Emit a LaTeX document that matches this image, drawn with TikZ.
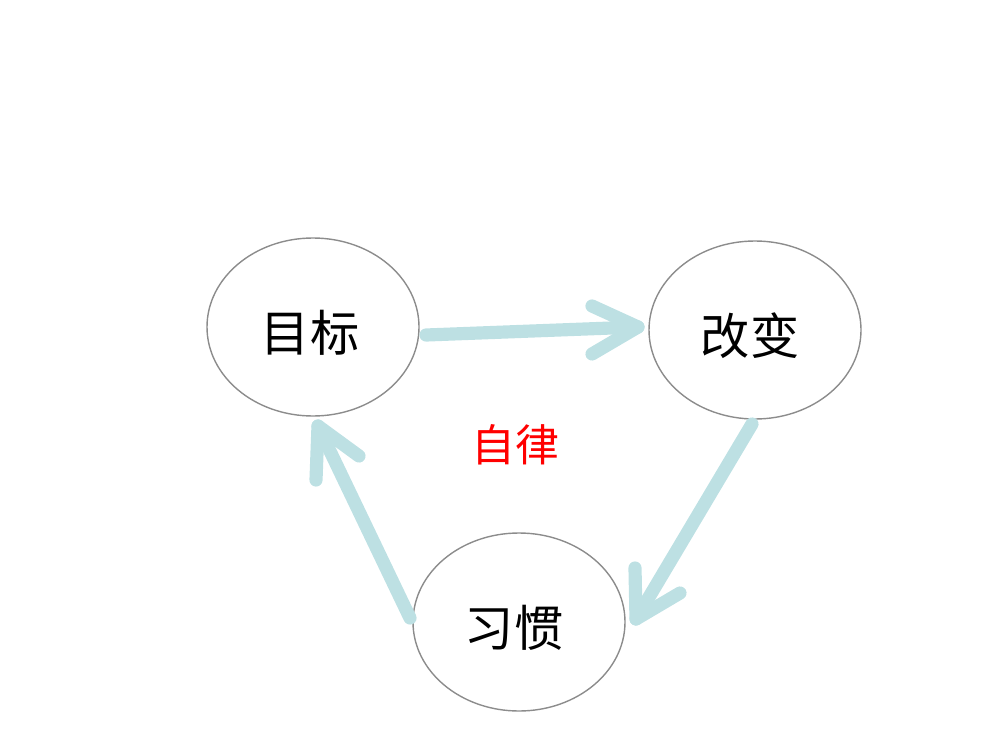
\documentclass[tikz,border=0pt]{standalone}
\usepackage{fontspec}
\newfontfamily\cjk{Noto Sans CJK SC}
\begin{document}
\begin{tikzpicture}[x=0.02cm,y=-0.02cm,
  circ/.style={draw=gray!90,line width=0.8pt,ellipse,minimum width=212*0.02cm,minimum height=178*0.02cm},
  lbl/.style={font=\cjk\fontsize{28pt}{30pt}\selectfont},
  arr/.style={draw={rgb,255:red,189;green,224;blue,227},line width=7.5pt,line cap=round,line join=round}]
\useasboundingbox (0,0) rectangle (1000,750);
\draw[draw=gray!90,line width=0.8pt] (313,327) ellipse [x radius=106,y radius=89];
\draw[draw=gray!90,line width=0.8pt] (755,330) ellipse [x radius=106,y radius=89];
\draw[draw=gray!90,line width=0.8pt] (519,622) ellipse [x radius=106,y radius=89];
\node[lbl] (a) at (310,333) {目标};
\node[lbl] (b) at (750,336) {改变};
\node[lbl] (c) at (514,628) {习惯};
\node[font=\cjk\fontsize{25pt}{27pt}\selectfont,text=red] (d) at (515,445) {自律};
\coordinate (a1) at (426,335); \coordinate (a2) at (638,327);
\coordinate (b1) at (752,424); \coordinate (b2) at (636,619);
\coordinate (c1) at (410,618); \coordinate (c2) at (318,426);
\draw[arr] (a1) -- (a2);
\draw[arr] (592,306) -- (a2) -- (592,354);
\draw[arr] (b1) -- (b2);
\draw[arr] (635,568) -- (b2) -- (680,593);
\draw[arr] (c1) -- (c2);
\draw[arr] (316,480) -- (c2) -- (359,456);
\end{tikzpicture}
\end{document}
